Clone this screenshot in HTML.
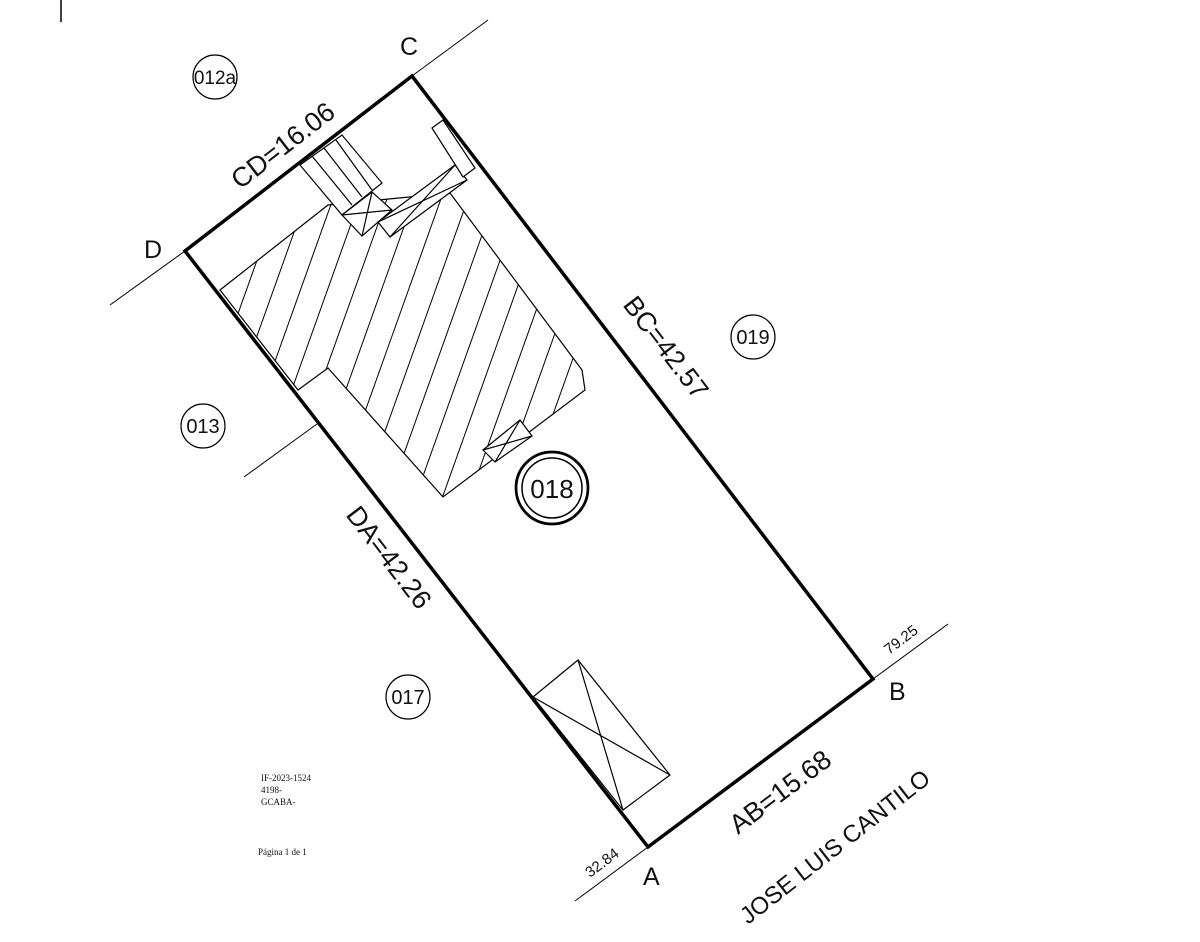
<!DOCTYPE html>
<html><head><meta charset="utf-8"><style>
html,body{margin:0;padding:0;background:#fff;}
svg{display:block;}
text{font-family:"Liberation Sans",Arial,sans-serif;fill:#111;}
</style></head><body>
<svg width="1200" height="942" viewBox="0 0 1200 942" xmlns="http://www.w3.org/2000/svg">
<defs>
<clipPath id="bld"><polygon points="220,290 328,205 450,193 582,370 585,390 443,497 328,368 298,390"/></clipPath>
</defs>
<line x1="61" y1="0" x2="61" y2="22" stroke="#000" stroke-width="1.5"/>
<g stroke="#000" stroke-width="1" fill="none">
<line x1="412" y1="76" x2="488" y2="20"/>
<line x1="185" y1="251" x2="110" y2="305"/>
<line x1="873" y1="679" x2="948" y2="624"/>
<line x1="648" y1="847" x2="575" y2="901"/>
<line x1="317" y1="424" x2="244" y2="477"/>
</g>
<g clip-path="url(#bld)" stroke="#000" stroke-width="1">
<line x1="150" y1="560" x2="300" y2="140"/>
<line x1="177" y1="560" x2="327" y2="140"/>
<line x1="204" y1="560" x2="354" y2="140"/>
<line x1="231" y1="560" x2="381" y2="140"/>
<line x1="258" y1="560" x2="408" y2="140"/>
<line x1="285" y1="560" x2="435" y2="140"/>
<line x1="312" y1="560" x2="462" y2="140"/>
<line x1="339" y1="560" x2="489" y2="140"/>
<line x1="366" y1="560" x2="516" y2="140"/>
<line x1="393" y1="560" x2="543" y2="140"/>
<line x1="420" y1="560" x2="570" y2="140"/>
<line x1="447" y1="560" x2="597" y2="140"/>
<line x1="474" y1="560" x2="624" y2="140"/>
<line x1="501" y1="560" x2="651" y2="140"/>
<line x1="528" y1="560" x2="678" y2="140"/>
<line x1="555" y1="560" x2="705" y2="140"/>
</g>
<polygon points="220,290 328,205 450,193 582,370 585,390 443,497 328,368 298,390" fill="none" stroke="#000" stroke-width="1.2"/>
<g stroke="#000" stroke-width="1.2" fill="#fff">
<polygon points="300,165 342,135 382,183 342,215"/>
<line x1="312" y1="156" x2="352" y2="205"/>
<line x1="324" y1="148" x2="362" y2="197"/>
<line x1="336" y1="140" x2="372" y2="190"/>
<polygon points="342,215 372,192 392,210 362,236"/>
<line x1="342" y1="215" x2="392" y2="210"/>
<line x1="372" y1="192" x2="362" y2="236"/>
<polygon points="378,222 455,165 467,180 390,237" />
<line x1="378" y1="222" x2="467" y2="180"/>
<line x1="455" y1="165" x2="390" y2="237"/>
<polygon points="432,128 443,120 475,168 463,177" />
<polygon points="483,450 520,420 532,436 495,462"/>
<line x1="483" y1="450" x2="532" y2="436"/>
<line x1="520" y1="420" x2="495" y2="462"/>
<polygon points="533,697 578,660 670,775 623,810"/>
<line x1="533" y1="697" x2="670" y2="775"/>
<line x1="578" y1="660" x2="623" y2="810"/>
</g>
<polygon points="412,76 873,679 648,847 185,251" fill="none" stroke="#000" stroke-width="3.5" stroke-linejoin="miter"/>
<text x="400" y="55" font-size="25">C</text>
<text x="144" y="258" font-size="25">D</text>
<text x="889" y="700" font-size="25">B</text>
<text x="643" y="885" font-size="25">A</text>
<text font-size="27" transform="translate(240,190) rotate(-37.6)">CD=16.06</text>
<text font-size="27" transform="translate(622,305) rotate(52.6)">BC=42.57</text>
<text font-size="27" transform="translate(345,515) rotate(52.6)">DA=42.26</text>
<text font-size="27" transform="translate(738,835) rotate(-36.9)">AB=15.68</text>
<text font-size="24" transform="translate(748,925) rotate(-38)">JOSE LUIS CANTILO</text>
<text font-size="15" transform="translate(590,878) rotate(-37)">32.84</text>
<text font-size="15" transform="translate(889,655) rotate(-37)">79.25</text>
<g fill="none" stroke="#000" stroke-width="1.2">
<circle cx="215" cy="77" r="22"/>
<circle cx="753" cy="337" r="22"/>
<circle cx="203" cy="426" r="22"/>
<circle cx="408" cy="697" r="22"/>
<circle cx="552" cy="488" r="36" stroke-width="2.8"/>
<circle cx="552" cy="488" r="30" stroke-width="1.5"/>
</g>
<g font-size="20" text-anchor="middle">
<text x="215" y="84" font-size="19">012a</text>
<text x="753" y="344">019</text>
<text x="203" y="433">013</text>
<text x="408" y="704">017</text>
<text x="552" y="498" font-size="26">018</text>
</g>
<g font-size="9">
<text x="261" y="781" style="font-family:'Liberation Serif',serif">IF-2023-1524</text>
<text x="261" y="793" style="font-family:'Liberation Serif',serif">4198-</text>
<text x="261" y="805" style="font-family:'Liberation Serif',serif">GCABA-</text>
<text x="258" y="855" style="font-family:'Liberation Serif',serif">Página 1 de 1</text>
</g>
</svg>
</body></html>
